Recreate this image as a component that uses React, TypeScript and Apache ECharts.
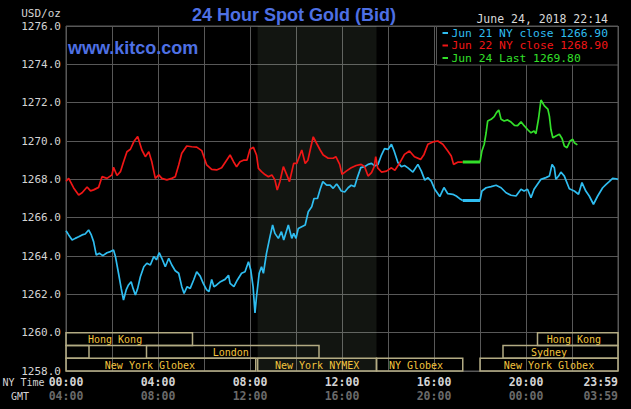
import React, { useEffect, useRef } from "react";
import * as echarts from "echarts";

// ---------- data ----------
const yTicks = [1258, 1260, 1262, 1264, 1266, 1268, 1270, 1272, 1274, 1276];

const blueTimes = ["00:00","00:07","00:16","00:24","00:33","00:42","00:50","00:59","01:06","01:12","01:19","01:27","01:36","01:47","01:56","02:04","02:09","02:17","02:24","02:30","02:37","02:43","02:50","02:55","03:01","03:07","03:14","03:23","03:31","03:40","03:49","03:56","04:03","04:10","04:19","04:28","04:36","04:45","04:54","05:02","05:08","05:16","05:24","05:33","05:41","05:50","05:58","06:07","06:13","06:20","06:26","06:33","06:43","06:55","07:04","07:08","07:18","07:27","07:38","07:47","07:56","08:02","08:08","08:13","08:17","08:24","08:30","08:35","08:43","08:52","08:59","09:05","09:14","09:22","09:28","09:40","09:49","09:54","10:00","10:06","10:15","10:24","10:32","10:41","10:47","10:56","11:03","11:10","11:20","11:29","11:37","11:46","11:50","11:58","12:07","12:16","12:24","12:33","12:40","12:49","12:59","13:08","13:17","13:25","13:34","13:42","13:51","14:00","14:09","14:16","14:26","14:35","14:43","14:52","15:05","15:18","15:27","15:36","15:44","15:53","16:02","16:15","16:26","16:36","16:49","16:58","17:07","17:15"];
const blueValues = [1265.32,1265.1,1264.83,1264.92,1265.0,1265.1,1265.15,1265.36,1265.1,1264.75,1264.05,1264.14,1264.02,1264.17,1264.23,1264.31,1263.97,1263.1,1262.31,1261.7,1262.23,1262.49,1262.66,1262.31,1261.97,1262.31,1262.92,1263.44,1263.62,1263.53,1263.97,1263.8,1264.17,1263.88,1263.44,1263.88,1263.53,1263.23,1263.1,1262.4,1262.05,1262.4,1262.31,1262.75,1263.18,1262.95,1262.57,1262.23,1262.14,1262.78,1262.4,1262.49,1262.66,1262.78,1263.0,1262.57,1262.4,1262.75,1263.1,1263.18,1263.7,1263.27,1262.4,1261.03,1261.88,1263.1,1263.44,1263.1,1264.14,1265.0,1265.62,1265.18,1264.92,1265.27,1264.83,1265.62,1264.92,1265.18,1264.92,1265.44,1265.53,1265.62,1266.31,1266.57,1267.0,1267.0,1267.48,1267.88,1267.7,1267.7,1267.53,1267.76,1267.65,1267.39,1267.34,1267.56,1267.69,1267.62,1268.09,1268.61,1268.66,1268.78,1268.83,1268.7,1268.78,1269.22,1269.6,1269.56,1269.83,1269.48,1268.87,1268.66,1268.72,1268.6,1268.38,1268.78,1268.43,1267.96,1268.09,1267.91,1267.48,1267.1,1267.57,1267.25,1267.22,1267.13,1266.99,1266.9];
const blueLateTimes = ["18:00","18:05","18:16","18:29","18:42","18:55","19:08","19:21","19:34","19:47","19:55","20:04","20:13","20:21","20:30","20:39","20:52","21:01","21:08","21:14","21:18","21:25","21:31","21:40","21:53","22:06","22:17","22:26","22:36","22:45","22:56","23:07","23:20","23:29","23:37","23:46","23:55","24:00"];
const blueLateValues = [1266.9,1267.39,1267.56,1267.62,1267.69,1267.56,1267.3,1267.17,1267.13,1267.48,1267.39,1267.48,1267.04,1267.48,1267.74,1268.0,1268.09,1268.17,1268.78,1268.6,1268.0,1268.17,1268.38,1268.17,1267.51,1267.39,1267.22,1267.83,1267.39,1267.13,1266.7,1267.13,1267.56,1267.74,1267.88,1268.05,1268.03,1268.0];

const redTimes = ["00:00","00:07","00:20","00:33","00:42","00:55","01:04","01:12","01:25","01:34","01:47","02:00","02:04","02:13","02:22","02:30","02:39","02:48","02:57","03:07","03:18","03:27","03:36","03:44","03:53","04:02","04:10","04:23","04:36","04:45","04:54","05:02","05:15","05:28","05:41","05:54","06:07","06:20","06:33","06:46","06:59","07:08","07:17","07:25","07:34","07:43","07:52","08:00","08:09","08:17","08:22","08:30","08:39","08:48","08:57","09:05","09:11","09:18","09:27","09:36","09:43","09:49","09:54","10:02","10:15","10:24","10:31","10:37","10:45","10:54","11:03","11:11","11:24","11:37","11:44","11:54","12:00","12:11","12:24","12:37","12:50","12:59","13:08","13:17","13:24","13:28","13:33","13:43","13:56","14:09","14:18","14:31","14:43","14:56","15:09","15:25","15:34","15:44","15:57","16:10","16:23","16:36","16:45","16:51","17:03","17:15"];
const redValues = [1267.9,1268.05,1267.55,1267.18,1267.3,1267.6,1267.4,1267.45,1267.58,1268.14,1268.05,1268.23,1268.63,1268.2,1268.4,1268.9,1269.44,1269.57,1269.97,1270.23,1269.53,1269.18,1269.44,1268.9,1268.05,1268.23,1268.05,1267.97,1268.05,1268.14,1268.75,1269.36,1269.74,1269.7,1269.68,1269.5,1268.75,1268.52,1268.49,1268.6,1269.0,1269.27,1268.92,1268.66,1268.92,1269.0,1269.0,1269.57,1269.67,1269.27,1268.57,1268.4,1268.25,1268.14,1268.23,1267.97,1267.44,1267.88,1268.66,1268.23,1267.88,1268.4,1268.83,1268.83,1269.53,1268.83,1269.0,1269.53,1270.22,1269.87,1269.53,1269.27,1269.1,1269.1,1269.18,1268.78,1268.26,1268.43,1268.6,1268.72,1268.78,1268.66,1268.17,1268.35,1268.66,1269.18,1268.6,1268.38,1268.43,1268.6,1268.47,1268.87,1269.3,1269.48,1269.18,1269.04,1269.3,1269.83,1269.95,1270.0,1269.83,1269.48,1269.22,1268.78,1268.9,1268.9];

const greenTimes = ["18:00","18:05","18:11","18:16","18:20","18:29","18:37","18:43","18:49","18:55","19:03","19:12","19:21","19:30","19:38","19:47","19:55","20:04","20:13","20:21","20:26","20:33","20:39","20:48","20:57","21:01","21:05","21:10","21:18","21:27","21:34","21:40","21:47","21:55","22:02","22:06","22:14"];
const greenValues = [1268.9,1269.48,1269.83,1270.43,1271.04,1271.13,1271.27,1271.48,1271.62,1271.13,1271.04,1271.1,1270.99,1270.82,1270.8,1271.0,1270.8,1270.6,1270.43,1270.52,1270.38,1271.2,1272.14,1271.83,1271.66,1271.3,1270.6,1270.17,1270.26,1270.35,1270.13,1269.74,1269.65,1270.0,1270.09,1269.91,1269.8];

// market closed gap (flat at the previous close)
const gapTimes = ["17:15", "18:00"];
const blueClose = 1266.9;
const redClose = 1268.9;

const legendLabels = ["Jun 21 NY close 1266.90", "Jun 22 NY close 1268.90", "Jun 24 Last 1269.80"];

const shadeStart = "08:20";
const shadeEnd = "13:30";

const sessionNames = ["Hong Kong", "Hong Kong", "", "London", "Sydney", "New York Globex", "New York NYMEX", "NY Globex", "New York Globex"];
const sessionStart = ["00:00", "20:30", "00:00", "03:30", "19:00", "00:00", "08:20", "13:30", "18:00"];
const sessionEnd = ["05:30", "24:00", "01:00", "11:00", "24:00", "08:15", "13:30", "17:15", "24:00"];
const sessionRow = [0, 0, 1, 1, 1, 2, 2, 2, 2];
const sessionLabelAt = ["02:08", "22:05", "00:30", "07:10", "21:00", "03:39", "10:55", "15:13", "21:00"];

// ---------- helpers ----------
const toMin = (t: string) => {
  const [h, m] = t.split(":").map(Number);
  return h * 60 + m;
};
const pairs = (ts: string[], vs: number[]) => ts.map((t, i) => [toMin(t), vs[i]]);
const pad = (n: number) => (n < 10 ? "0" + n : "" + n);

const MONO = "'DejaVu Sans Mono', monospace";
const SANS = "'Liberation Sans', Arial, sans-serif";
const GRID = "#585858";
const BLUE = "#2fbdf0";
const RED = "#f01616";
const GREEN = "#33e02a";

export default function App() {
  const ref = useRef<HTMLDivElement>(null);

  useEffect(() => {
    if (!ref.current) return;
    const chart = echarts.init(ref.current, null, { renderer: "svg" });

    const sessionData = sessionNames.map((_, i) => [
      toMin(sessionStart[i]),
      toMin(sessionEnd[i]),
      sessionRow[i],
      toMin(sessionLabelAt[i]),
      i,
    ]);
    const rowH = (yTicks[1] - yTicks[0]) / 3;
    const topVal = yTicks[1];

    const legendY = [33, 45.5, 58];
    const legendColors = [BLUE, RED, GREEN];

    const xLabelBase = {
      show: true,
      margin: 5,
      fontFamily: MONO,
      fontWeight: "bold",
      fontSize: 11.5,
      showMinLabel: true,
      showMaxLabel: true,
      hideOverlap: false,
      alignMaxLabel: "right",
    };

    const option: any = {
      animation: false,
      backgroundColor: "#000000",
      grid: {
        left: 66,
        right: 13,
        top: 26,
        bottom: 38,
        outerBoundsMode: "none",
        containLabel: false,
        show: true,
        borderColor: GRID,
        borderWidth: 1,
        backgroundColor: "transparent",
      },
      xAxis: [
        {
          type: "value",
          min: 0,
          max: 1440,
          interval: 120,
          axisLine: { show: false },
          axisTick: { show: false },
          splitLine: { show: true, lineStyle: { color: GRID, width: 1 } },
          axisLabel: {
            ...xLabelBase,
            color: "#d4d4d4",
            formatter: (v: number) => {
              if (v === 1440) return "23:59";
              if (v % 240 !== 0) return "";
              return pad(v / 60) + ":00";
            },
          },
        },
        {
          type: "value",
          min: 0,
          max: 1440,
          interval: 120,
          position: "bottom",
          offset: 14,
          axisLine: { show: false },
          axisTick: { show: false },
          splitLine: { show: false },
          axisLabel: {
            ...xLabelBase,
            color: "#6a6a6a",
            formatter: (v: number) => {
              if (v === 1440) return "03:59";
              if (v % 240 !== 0) return "";
              return pad((v / 60 + 4) % 24) + ":00";
            },
          },
        },
      ],
      yAxis: {
        type: "value",
        min: yTicks[0],
        max: yTicks[yTicks.length - 1],
        interval: 2,
        axisLine: { show: false },
        axisTick: { show: false },
        splitLine: { show: true, lineStyle: { color: GRID, width: 1 } },
        axisLabel: {
          margin: 5,
          color: "#d4d4d4",
          fontFamily: MONO,
          fontSize: 11,
          formatter: (v: number) => v.toFixed(1),
        },
      },
      series: [
        {
          type: "line",
          name: "shade",
          data: [],
          silent: true,
          markArea: {
            silent: true,
            itemStyle: { color: "rgba(200,230,190,0.09)" },
            data: [[{ xAxis: toMin(shadeStart) }, { xAxis: toMin(shadeEnd) }]],
          },
        },
        {
          type: "custom",
          name: "sessions",
          silent: true,
          data: sessionData,
          encode: { x: [0, 1, 3], y: 2 },
          renderItem: (params: any, api: any) => {
            const s = api.value(0);
            const e = api.value(1);
            const r = api.value(2);
            const la = api.value(3);
            const idx = api.value(4);
            const p0 = api.coord([s, topVal - r * rowH]);
            const p1 = api.coord([e, topVal - (r + 1) * rowH]);
            const pl = api.coord([la, topVal - (r + 0.5) * rowH]);
            return {
              type: "group",
              children: [
                {
                  type: "rect",
                  shape: { x: p0[0], y: p0[1], width: p1[0] - p0[0], height: p1[1] - p0[1] },
                  style: { fill: "none", stroke: "#b3ab83", lineWidth: 1.5 },
                },
                {
                  type: "text",
                  x: pl[0],
                  y: pl[1] + 0.5,
                  style: {
                    text: sessionNames[idx],
                    fill: "#f3c43e",
                    fontFamily: MONO,
                    fontSize: 10,
                    align: "center",
                    verticalAlign: "middle",
                  },
                },
              ],
            };
          },
        },
        {
          type: "line",
          name: "blue",
          data: pairs(blueTimes, blueValues),
          symbol: "none",
          lineStyle: { color: BLUE, width: 1.7 },
          silent: true,
        },
        {
          type: "line",
          name: "blueLate",
          data: pairs(blueLateTimes, blueLateValues),
          symbol: "none",
          lineStyle: { color: BLUE, width: 1.7 },
          silent: true,
        },
        {
          type: "line",
          name: "blueGap",
          data: gapTimes.map((t) => [toMin(t), blueClose]),
          symbol: "none",
          lineStyle: { color: BLUE, width: 3 },
          silent: true,
        },
        {
          type: "line",
          name: "red",
          data: pairs(redTimes, redValues),
          symbol: "none",
          lineStyle: { color: RED, width: 1.7 },
          silent: true,
        },
        {
          type: "line",
          name: "greenGap",
          data: gapTimes.map((t) => [toMin(t), redClose]),
          symbol: "none",
          lineStyle: { color: GREEN, width: 3 },
          silent: true,
        },
        {
          type: "line",
          name: "green",
          data: pairs(greenTimes, greenValues),
          symbol: "none",
          lineStyle: { color: GREEN, width: 1.7 },
          silent: true,
        },
      ],
      graphic: [
        {
          type: "text",
          x: 61,
          y: 13,
          style: { text: "USD/oz", fill: "#d4d4d4", fontFamily: MONO, fontSize: 11, align: "right", verticalAlign: "middle" },
        },
        {
          type: "text",
          x: 294,
          y: 15,
          style: { text: "24 Hour Spot Gold (Bid)", fill: "#4e70e4", fontFamily: SANS, fontWeight: "bold", fontSize: 18, align: "center", verticalAlign: "middle" },
        },
        {
          type: "text",
          x: 68,
          y: 48,
          z: 100,
          style: { text: "www.kitco.com", fill: "#4e70e4", fontFamily: SANS, fontWeight: "bold", fontSize: 18, align: "left", verticalAlign: "middle" },
        },
        {
          type: "text",
          x: 608,
          y: 19,
          style: { text: "June 24, 2018 22:14", fill: "#d8d8d8", fontFamily: MONO, fontSize: 11.5, align: "right", verticalAlign: "middle" },
        },
        {
          type: "rect",
          z: 100,
          shape: { x: 436.5, y: 26.5, width: 181.5, height: 38.5 },
          style: { fill: "#000000", stroke: GRID, lineWidth: 1 },
        },
        ...legendLabels.flatMap((label, i) => [
          {
            type: "line",
            z: 101,
            shape: { x1: 442.5, y1: legendY[i], x2: 448, y2: legendY[i] },
            style: { stroke: legendColors[i], lineWidth: 2 },
          },
          {
            type: "text",
            z: 101,
            x: 451.5,
            y: legendY[i],
            style: { text: label, fill: legendColors[i], fontFamily: MONO, fontSize: 11.3, lineHeight: 12, align: "left", verticalAlign: "middle" },
          },
        ]),
        {
          type: "text",
          x: 2.5,
          y: 382.5,
          style: { text: "NY Time", fill: "#d4d4d4", fontFamily: MONO, fontSize: 10, align: "left", verticalAlign: "middle" },
        },
        {
          type: "text",
          x: 11,
          y: 396,
          style: { text: "GMT", fill: "#d4d4d4", fontFamily: MONO, fontSize: 10, align: "left", verticalAlign: "middle" },
        },
      ],
    };

    chart.setOption(option);
    return () => chart.dispose();
  }, []);

  return (
    <div
      ref={ref}
      style={{ position: "fixed", left: 0, top: 0, width: 631, height: 409, background: "#000" }}
    />
  );
}
